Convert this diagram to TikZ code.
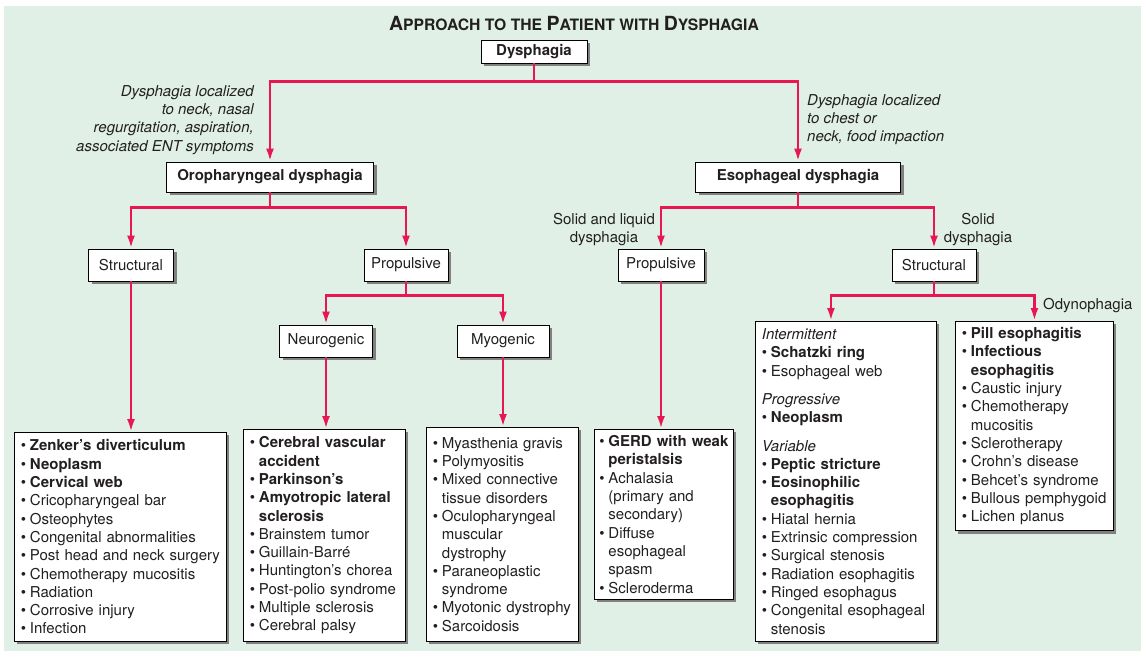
\documentclass[tikz,border=0pt]{standalone}
\usepackage{fontspec}
\setmainfont{TeX Gyre Heros}
\usetikzlibrary{arrows.meta,shadows}
\definecolor{bggreen}{RGB}{224,240,230}
\definecolor{linkred}{RGB}{232,23,82}
\definecolor{ink}{RGB}{35,31,32}
\newcommand{\basefont}{\fontsize{15}{18.3}\selectfont}
\newcommand{\bitem}[1]{\mbox{\makebox[9pt][l]{\textbullet}#1}}
\newcommand{\bcont}[1]{\mbox{\hspace*{9pt}#1}}
\newcommand{\tcap}[1]{{\fontsize{19.5}{20}\selectfont #1}}
\newcommand{\tsml}[1]{{\fontsize{15.7}{20}\selectfont #1}}
\tikzset{
  box/.style={draw=black, fill=white, line width=0.9pt, inner sep=0pt, text=ink,
    drop shadow={shadow xshift=3pt, shadow yshift=-3pt, fill=black!50, opacity=1}},
  listbox/.style={box, anchor=north west, align=left, inner xsep=6.5pt, inner ysep=6pt},
  flow/.style={draw=linkred, line width=2.6pt, -{Latex[length=13pt,width=8pt]}},
  note/.style={inner sep=0pt, text=ink},
}
\begin{document}
\begin{tikzpicture}[x=1pt, y=-1pt, font=\basefont]
        \useasboundingbox (0,0) rectangle (1141,651);
        \fill[bggreen] (4,6) rectangle (1141,651);
        % Title
        \node[note, font=\bfseries] (title) at (574,23) {\tcap{A}\tsml{PPROACH TO THE }\tcap{P}\tsml{ATIENT WITH }\tcap{D}\tsml{YSPHAGIA}};
        % Nodes (top to bottom)
        \node (dys) at (534,51.5) [box, minimum width=106pt, minimum height=23pt] {\textbf{Dysphagia}};
        \node (oro) at (270,177) [box, minimum width=207pt, minimum height=30pt] {\textbf{Oropharyngeal dysphagia}};
        \node (eso) at (798,177) [box, minimum width=205pt, minimum height=30pt] {\textbf{Esophageal dysphagia}};
        \node (strL) at (131,265) [box, minimum width=85pt, minimum height=32pt] {Structural};
        \node (propL) at (406,265) [box, minimum width=84pt, minimum height=32pt] {Propulsive};
        \node (neuro) at (326,341) [box, minimum width=93pt, minimum height=32pt] {Neurogenic};
        \node (myo) at (503,341) [box, minimum width=92pt, minimum height=32pt] {Myogenic};
        \node (propR) at (661,265) [box, minimum width=86pt, minimum height=32pt] {Propulsive};
        \node (strR) at (934,265) [box, minimum width=84pt, minimum height=32pt] {Structural};
        % Lists
        \node (listA) at (14,432) [listbox, text width=199pt, minimum height=209pt] {%
          \bitem{\textbf{Zenker’s diverticulum}}\\ \bitem{\textbf{Neoplasm}}\\ \bitem{\textbf{Cervical web}}\\
          \bitem{Cricopharyngeal bar}\\ \bitem{Osteophytes}\\ \bitem{Congenital abnormalities}\\
          \bitem{Post head and neck surgery}\\ \bitem{Chemotherapy mucositis}\\ \bitem{Radiation}\\
          \bitem{Corrosive injury}\\ \bitem{Infection}};
        \node (listB) at (243,429) [listbox, text width=149pt, minimum height=212pt] {%
          \bitem{\textbf{Cerebral vascular}}\\ \bcont{\textbf{accident}}\\ \bitem{\textbf{Parkinson’s}}\\
          \bitem{\textbf{Amyotropic lateral}}\\ \bcont{\textbf{sclerosis}}\\ \bitem{Brainstem tumor}\\
          \bitem{Guillain-Barré}\\ \bitem{Huntington’s chorea}\\ \bitem{Post-polio syndrome}\\
          \bitem{Multiple sclerosis}\\ \bitem{Cerebral palsy}};
        \node (listC) at (426,427) [listbox, text width=139pt, minimum height=214pt] {%
          \bitem{Myasthenia gravis}\\ \bitem{Polymyositis}\\ \bitem{Mixed connective}\\
          \bcont{tissue disorders}\\ \bitem{Oculopharyngeal}\\ \bcont{muscular}\\ \bcont{dystrophy}\\
          \bitem{Paraneoplastic}\\ \bcont{syndrome}\\ \bitem{Myotonic dystrophy}\\ \bitem{Sarcoidosis}};
        \node (listD) at (594,429) [listbox, inner xsep=5pt, text width=129pt, minimum height=167pt] {%
          \bitem{\textbf{GERD with weak}}\\ \bcont{\textbf{peristalsis}}\\ \bitem{Achalasia}\\
          \bcont{(primary and}\\ \bcont{secondary)}\\ \bitem{Diffuse}\\ \bcont{esophageal}\\
          \bcont{spasm}\\ \bitem{Scleroderma}};
        \node (listE) at (755,321) [listbox, text width=168pt, minimum height=320pt] {%
          \textit{Intermittent}\\ \bitem{\textbf{Schatzki ring}}\\ \bitem{Esophageal web}\\[10pt]
          \textit{Progressive}\\ \bitem{\textbf{Neoplasm}}\\[10pt]
          \textit{Variable}\\ \bitem{\textbf{Peptic stricture}}\\ \bitem{\textbf{Eosinophilic}}\\
          \bcont{\textbf{esophagitis}}\\ \bitem{Hiatal hernia}\\ \bitem{Extrinsic compression}\\
          \bitem{Surgical stenosis}\\ \bitem{Radiation esophagitis}\\ \bitem{Ringed esophagus}\\
          \bitem{Congenital esophageal}\\ \bcont{stenosis}};
        \node (listF) at (955,321) [listbox, text width=145pt, minimum height=209pt] {%
          \bitem{\textbf{Pill esophagitis}}\\ \bitem{\textbf{Infectious}}\\ \bcont{\textbf{esophagitis}}\\
          \bitem{Caustic injury}\\ \bitem{Chemotherapy}\\ \bcont{mucositis}\\ \bitem{Sclerotherapy}\\
          \bitem{Crohn’s disease}\\ \bitem{Behcet’s syndrome}\\ \bitem{Bullous pemphygoid}\\
          \bitem{Lichen planus}};
        % Labels
        \node (lblOro) at (254,85) [note, anchor=north east, align=right, font=\basefont\itshape]
          {Dysphagia localized\\to neck, nasal\\regurgitation, aspiration,\\associated ENT symptoms};
        \node (lblEso) at (807,94) [note, anchor=north west, align=left, font=\basefont\itshape]
          {Dysphagia localized\\to chest or\\neck, food impaction};
        \node (lblLiq) at (604,213) [note, anchor=north, align=center] {Solid and liquid\\dysphagia};
        \node (lblSol) at (978,213) [note, anchor=north, align=center] {Solid\\dysphagia};
        \node (lblOdy) at (1043,306) [note, anchor=west] {Odynophagia};
        % Edges
        \draw[flow] (dys.south) -- ++(0,18) -| (oro.north);
        \draw[flow] (dys.south) -- ++(0,18) -| (eso.north);
        \draw[flow] (oro.south) -- ++(0,15) -| (strL.north);
        \draw[flow] (oro.south) -- ++(0,15) -| (propL.north);
        \draw[flow] (propL.south) -- ++(0,14) -| (neuro.north);
        \draw[flow] (propL.south) -- ++(0,14) -| (myo.north);
        \draw[flow] (eso.south) -- ++(0,15) -| (propR.north);
        \draw[flow] (eso.south) -- ++(0,15) -| (strR.north);
        \draw[flow] (strR.south) -- ++(0,14) -| ([xshift=-15pt]listE.north);
        \draw[flow] (strR.south) -- ++(0,14) -| (listF.north);
        \draw[flow] (strL.south) -- (strL.south |- listA.north);
        \draw[flow] (neuro.south) -- (neuro.south |- listB.north);
        \draw[flow] (myo.south) -- (myo.south |- listC.north);
        \draw[flow] (propR.south) -- (propR.south |- listD.north);
      \end{tikzpicture}
\end{document}
